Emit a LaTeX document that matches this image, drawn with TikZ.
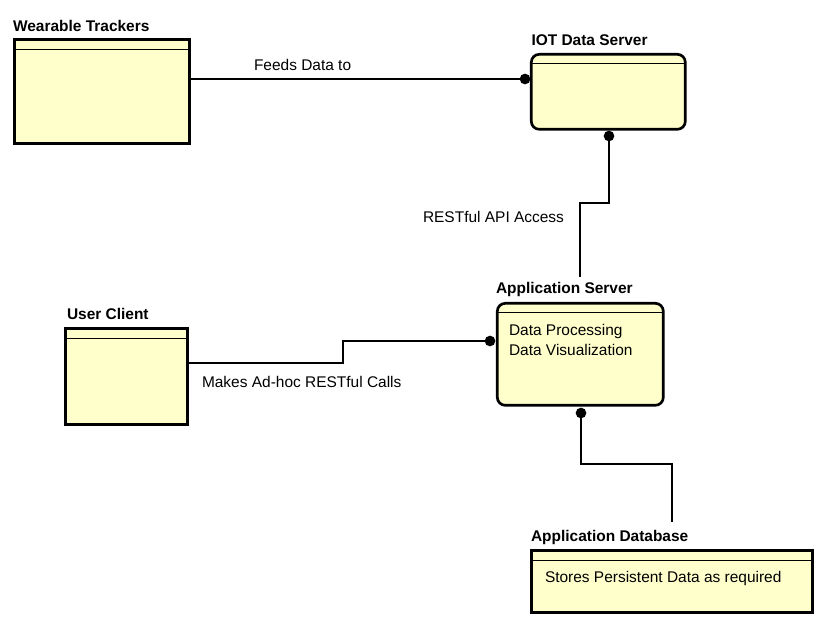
\documentclass[tikz,border=0pt]{standalone}
\usepackage{fontspec}
\setmainfont{Liberation Sans}
\usetikzlibrary{calc}
\definecolor{boxfill}{HTML}{FFFFCC}
\begin{document}
\begin{tikzpicture}[x=0.75pt,y=-0.75pt,
  every node/.style={font=\fontsize{11.6}{14}\selectfont, inner sep=0pt, outer sep=0pt},
  title/.style={font=\fontsize{11.6}{14}\selectfont\bfseries, anchor=base west},
  lbl/.style={anchor=base west},
  sqbox/.style={draw, fill=boxfill, line width=2.25pt, anchor=north west, rectangle},
  rbox/.style={draw, fill=boxfill, line width=2pt, anchor=north west, rectangle, rounded corners=6pt},
  hdr/.style={line width=0.75pt},
  conn/.style={line width=0.85pt},
  dot/.style={circle, fill=black, minimum size=8pt}]
\useasboundingbox[fill=white] (0,0) rectangle (828,628);

% boxes
\node[sqbox, minimum width=175*0.75pt, minimum height=104*0.75pt] (wt) at (14.5,39.5) {};
\node[rbox, minimum width=154*0.75pt, minimum height=75*0.75pt] (iot) at (531.3,54.3) {};
\node[rbox, minimum width=166*0.75pt, minimum height=102*0.75pt] (app) at (497.3,303.3) {};
\node[sqbox, minimum width=122*0.75pt, minimum height=96*0.75pt] (uc) at (65.5,328.5) {};
\node[sqbox, minimum width=281*0.75pt, minimum height=62*0.75pt] (db) at (531.5,550.5) {};

% header lines
\foreach \b in {wt,iot,app,uc,db}{
  \draw[hdr] ($(\b.north west)+(0,9.5)$) -- ($(\b.north east)+(0,9.5)$);
}

% titles
\node[title] (wtt) at (13,31.7) {Wearable Trackers};
\node[title] (iott) at (531.5,45) {IOT Data Server};
\node[title] (appt) at (496,293) {Application Server};
\node[title] (uct) at (67,319) {User Client};
\node[title] (dbt) at (531,541) {Application Database};

% contents
\node[lbl] (app1) at (509,335) {Data Processing};
\node[lbl] (app2) at (509,355) {Data Visualization};
\node[lbl] (db1) at (545,582) {Stores Persistent Data as required};

% connector labels
\node[lbl] (l1) at (254,70.7) {Feeds Data to};
\node[lbl] (l2) at (423,222) {RESTful API Access};
\node[lbl] (l3) at (202,387) {Makes Ad-hoc RESTful Calls};

% dots
\node[dot] (iotL) at (525,79) {};
\node[dot] (iotB) at (609,136) {};
\node[dot] (appL) at (490,341) {};
\node[dot] (appB) at (581,413) {};

% routing coordinates
\coordinate (r1) at (580,203);
\coordinate (appTop) at (580,277);
\coordinate (ucR) at (189,363);
\coordinate (r2) at (343,352);
\coordinate (r3) at (672,464);
\coordinate (dbTop) at (672,522);

% connectors
\draw[conn] (wt.east |- iotL) -- (iotL.center);
\draw[conn] (iotB.center) |- (r1) -- (appTop);
\draw[conn] (uc.east |- ucR) -| (r2) |- (appL.center);
\draw[conn] (appB.center) |- (r3) -- (dbTop);
\end{tikzpicture}
\end{document}
